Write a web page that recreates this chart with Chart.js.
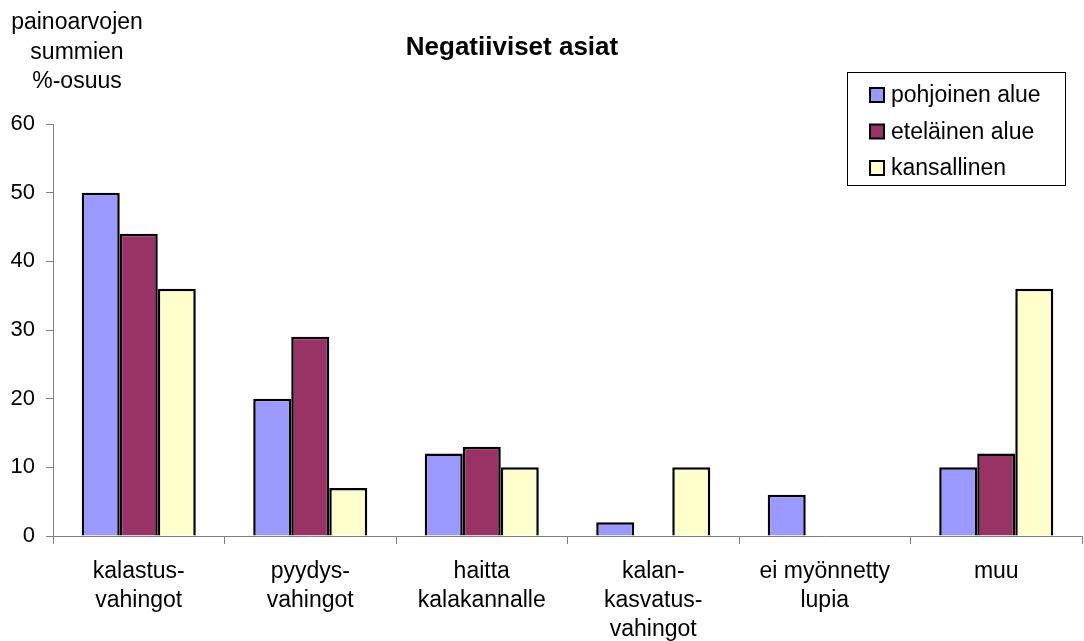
<!DOCTYPE html>
<html>
<head>
<meta charset="utf-8">
<script src="https://cdn.jsdelivr.net/npm/chart.js@4/dist/chart.umd.min.js"></script>
<style>
  html, body { margin: 0; padding: 0; background: #fff; }
  #wrap { width: 1084px; height: 641px; position: relative; }
</style>
</head>
<body>
<div id="wrap"><canvas id="kuva"></canvas></div>
<script>
const kategoriat = [
  ['kalastus-', 'vahingot'],
  ['pyydys-', 'vahingot'],
  ['haitta', 'kalakannalle'],
  ['kalan-', 'kasvatus-', 'vahingot'],
  ['ei myönnetty', 'lupia'],
  ['muu']
];
const pohjoinen = [50, 20, 12, 2, 6, 10];
const etelainen = [44, 29, 13, 0, 0, 12];
const kansallinen = [36, 7, 10, 10, 0, 36];
const yTiketit = [0, 10, 20, 30, 40, 50, 60];

const fontti = 'Arial, "Liberation Sans", sans-serif';

// otsikko, y-akselin nimi ja selite piirretään itse
const omatTekstit = {
  id: 'omatTekstit',
  afterDraw(chart) {
    const c = chart.ctx;
    c.save();
    c.fillStyle = '#000';
    c.textAlign = 'center';
    c.textBaseline = 'alphabetic';
    c.font = 'bold 26px ' + fontti;
    c.fillText('Negatiiviset asiat', 512, 55);

    c.font = '23px ' + fontti;
    ['painoarvojen', 'summien', '%-osuus'].forEach((t, i) => {
      c.fillText(t, 77, 29 + i * 29.5);
    });

    // selite
    c.strokeStyle = '#000';
    c.lineWidth = 1;
    c.strokeRect(847.5, 72.5, 218, 113);
    c.textAlign = 'left';
    c.textBaseline = 'middle';
    chart.data.datasets.forEach((ds, i) => {
      const y = 95 + i * 36.5;
      c.fillStyle = ds.backgroundColor;
      c.fillRect(870, y - 7, 14, 14);
      c.lineWidth = 2;
      c.strokeRect(870, y - 7, 14, 14);
      c.fillStyle = '#000';
      c.fillText(ds.label, 891, y + 1);
    });
    c.restore();
  }
};

new Chart(document.getElementById('kuva'), {
  type: 'bar',
  data: {
    labels: kategoriat,
    datasets: [
      { label: 'pohjoinen alue', data: pohjoinen, backgroundColor: '#9999FF' },
      { label: 'eteläinen alue', data: etelainen, backgroundColor: '#993366' },
      { label: 'kansallinen', data: kansallinen, backgroundColor: '#FFFFCC' }
    ]
  },
  options: {
    responsive: true,
    maintainAspectRatio: false,
    animation: false,
    layout: { padding: { top: 124, left: 0, right: 2, bottom: 0 } },
    datasets: {
      bar: {
        borderColor: '#000',
        borderWidth: 2.5,
        borderSkipped: 'bottom',
        categoryPercentage: 0.665,
        barPercentage: 1
      }
    },
    plugins: {
      legend: { display: false },
      title: { display: false },
      tooltip: { enabled: false }
    },
    scales: {
      y: {
        min: 0,
        max: 60,
        afterTickToLabelConversion(ax) {
          ax.ticks = yTiketit.map(v => ({ value: v, label: String(v) }));
        },
        afterFit(ax) { ax.width = 53; },
        border: { color: '#808080', width: 1 },
        grid: { drawOnChartArea: false, tickLength: 7, color: '#808080' },
        ticks: { color: '#000', font: { family: fontti, size: 22 }, padding: 11 }
      },
      x: {
        afterFit(ax) { ax.height = 105; },
        border: { color: '#808080', width: 1 },
        grid: { drawOnChartArea: false, tickLength: 8, color: '#808080', offset: true },
        ticks: {
          color: '#000',
          font: { family: fontti, size: 23, lineHeight: 1.27 },
          padding: 13,
          maxRotation: 0,
          autoSkip: false
        }
      }
    }
  },
  plugins: [omatTekstit]
});
</script>
</body>
</html>
